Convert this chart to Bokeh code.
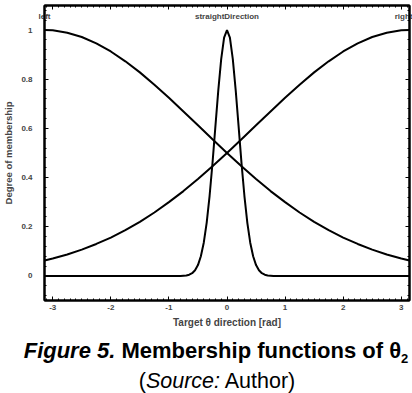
from bokeh.plotting import figure
from bokeh.models import Range1d, LinearAxis, FixedTicker, Div
from bokeh.layouts import column
from bokeh.embed import file_html
from bokeh.resources import INLINE

# ---- data ----
x_side = [-3.14, -3.0, -2.75, -2.5, -2.25, -2.0, -1.75, -1.5, -1.25, -1.0, -0.75, -0.5, -0.25,
          0.0, 0.25, 0.5, 0.75, 1.0, 1.25, 1.5, 1.75, 2.0, 2.25, 2.5, 2.75, 3.0, 3.14]
left_mf = [1.000, 0.999, 0.989, 0.972, 0.946, 0.913, 0.873, 0.828, 0.778, 0.725, 0.669, 0.613, 0.556,
           0.500, 0.446, 0.394, 0.345, 0.300, 0.258, 0.220, 0.186, 0.156, 0.130, 0.107, 0.087, 0.071, 0.063]
right_mf = [0.063, 0.071, 0.087, 0.107, 0.130, 0.156, 0.186, 0.220, 0.258, 0.300, 0.345, 0.394, 0.446,
            0.500, 0.556, 0.613, 0.669, 0.725, 0.778, 0.828, 0.873, 0.913, 0.946, 0.972, 0.989, 0.999, 1.000]

x_mid = [-3.14, -0.8, -0.7, -0.65, -0.6, -0.55, -0.5, -0.45, -0.4, -0.35, -0.3, -0.25, -0.2, -0.15, -0.1, -0.05,
         0.0, 0.05, 0.1, 0.15, 0.2, 0.25, 0.3, 0.35, 0.4, 0.45, 0.5, 0.55, 0.6, 0.65, 0.7, 0.8, 3.14]
mid_mf = [0.0, 0.0, 0.002, 0.005, 0.011, 0.023, 0.044, 0.080, 0.135, 0.216, 0.325, 0.458, 0.607, 0.755, 0.882, 0.969,
          1.000, 0.969, 0.882, 0.755, 0.607, 0.458, 0.325, 0.216, 0.135, 0.080, 0.044, 0.023, 0.011, 0.005, 0.002, 0.0, 0.0]

mf_names = ["left", "straightDirection", "right"]
mf_centers = [-3.1416, 0.0, 3.1416]

x_ticks = [-3, -2, -1, 0, 1, 2, 3]
x_tick_labels = ["-3", "-2", "-1", "0", "1", "2", "3"]
y_ticks = [0, 0.2, 0.4, 0.6, 0.8, 1]
y_tick_labels = ["0", "0.2", "0.4", "0.6", "0.8", "1"]

x_title = "Target θ direction [rad]"
y_title = "Degree of membership"

FONT = "Liberation Sans"

p = figure(width=412, height=330, x_range=Range1d(-3.1416, 3.1416), y_range=Range1d(-0.1, 1.1),
           output_backend="svg", toolbar_location=None,
           min_border_left=43, min_border_right=3, min_border_top=5, min_border_bottom=28)
p.grid.visible = False
p.outline_line_color = "black"
p.outline_line_width = 2
p.background_fill_color = "white"
p.border_fill_color = "white"

for xs, ys in ((x_side, left_mf), (x_side, right_mf), (x_mid, mid_mf)):
    p.line(xs, ys, line_color="black", line_width=2)

x_minor = [t / 10 for t in range(-31, 32)]
y_minor = [t / 25 for t in range(-2, 28)]


def style_axis(ax, ticks, labels, minor, standoff):
    ax.ticker = FixedTicker(ticks=ticks, minor_ticks=minor)
    ax.major_label_overrides = {t: l for t, l in zip(ticks, labels)}
    ax.major_tick_in = 4
    ax.major_tick_out = 0
    ax.minor_tick_in = 2
    ax.minor_tick_out = 0
    ax.axis_line_width = 2
    ax.axis_line_color = "black"
    ax.major_tick_line_width = 1
    ax.major_label_standoff = standoff
    ax.major_label_text_font = FONT
    ax.major_label_text_font_style = "bold"
    ax.major_label_text_font_size = "8px"
    ax.axis_label_text_font = FONT
    ax.axis_label_text_font_style = "bold"


xa = p.xaxis[0]
style_axis(xa, x_ticks, x_tick_labels, x_minor, 4)
xa.axis_label = x_title
xa.axis_label_standoff = 4
xa.axis_label_text_font_size = "10px"

ya = p.yaxis[0]
style_axis(ya, y_ticks, y_tick_labels, y_minor, 12)
ya.axis_label = y_title
ya.axis_label_standoff = 4
ya.axis_label_text_font_size = "9.5px"

# top axis: ticks plus the membership-function names (drawn just inside the frame)
top_ticks = [mf_centers[0]] + x_ticks + [mf_centers[2]]
top_labels = {t: "" for t in x_ticks}
for name, cx in zip(mf_names, mf_centers):
    top_labels[cx] = name
top = LinearAxis()
style_axis(top, top_ticks, [top_labels[t] for t in top_ticks], x_minor, -15)
p.add_layout(top, "above")

right = LinearAxis()
style_axis(right, y_ticks, ["" for _ in y_ticks], y_minor, 0)
p.add_layout(right, "right")

caption = Div(width=412, height=63, text=(
    f'<div style="position:relative;width:412px;height:63px;font-family:\'{FONT}\',Arial,sans-serif;color:black;">'
    '<div style="position:absolute;left:5px;top:5px;width:412px;text-align:center;white-space:nowrap;'
    'font-size:22px;font-weight:bold;line-height:22px;">'
    '<i>Figure 5.</i> Membership functions of θ<sub style="font-size:13px;line-height:0;">2</sub></div>'
    '<div style="position:absolute;left:6px;top:36px;width:412px;text-align:center;white-space:nowrap;'
    'font-size:21.5px;line-height:21px;">(<i>Source:</i> Author)</div>'
    '</div>'))

layout = column(p, caption, spacing=0)
open("out.html", "w").write(file_html(layout, INLINE))
